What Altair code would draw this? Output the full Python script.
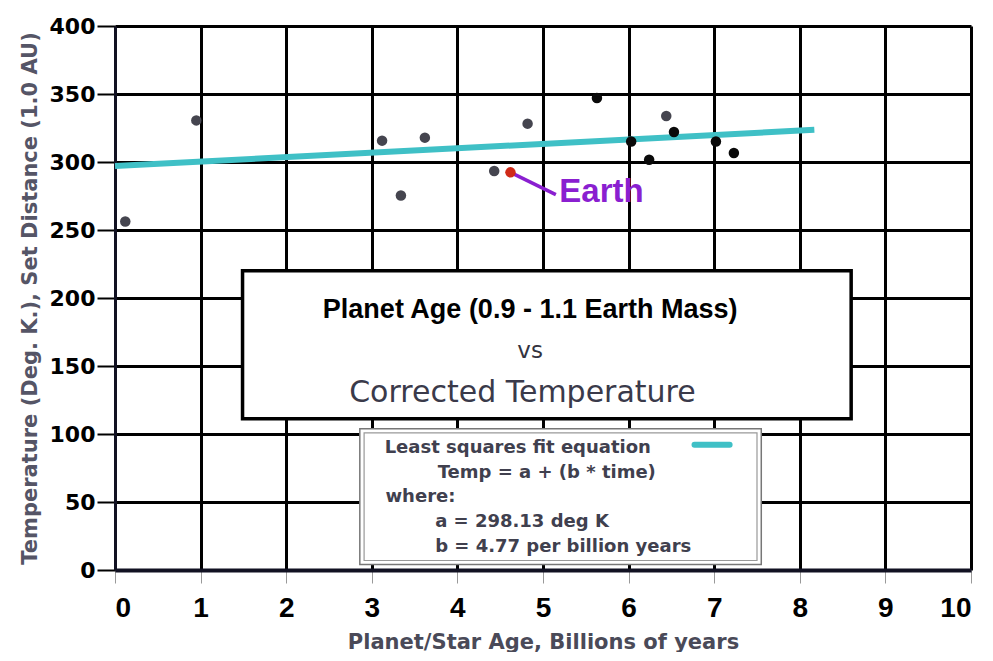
import altair as alt
import pandas as pd

# ---- data ----
age = [0.12, 0.95, 3.12, 3.34, 3.62, 4.43, 4.82, 5.63, 6.03, 6.24, 6.44, 6.53, 7.02, 7.23]
temp = [256.3, 330.6, 315.7, 275.4, 317.9, 293.4, 328.2, 347.1, 315.1, 301.7, 333.8, 322.0, 315.1, 306.6]
shade = ["gray", "gray", "gray", "gray", "gray", "gray", "gray",
         "black", "black", "black", "gray", "black", "black", "black"]

earth_age = [4.62]
earth_temp = [292.4]

fit_age = [0.0, 8.17]
fit_temp = [297.0, 323.7]

x_ticks = list(range(0, 11))
y_ticks = list(range(0, 401, 50))

title_lines = ["Planet Age (0.9 - 1.1 Earth Mass)", "vs", "Corrected Temperature"]
legend_lines = ["Least squares fit equation", "Temp = a + (b * time)", "where:",
                "a = 298.13 deg K", "b = 4.77 per billion years"]

# ---- annotation anchors (data units) ----
title_box = dict(age=[1.49], age2=[8.60], temp=[220.0], temp2=[111.2])
legend_outer = dict(age=[2.86], age2=[7.55], temp=[103.9], temp2=[4.0])
legend_inner = dict(age=[2.91], age2=[7.50], temp=[100.9], temp2=[7.0])
title_x = [4.85, 4.85, 4.76]
title_y = [191.5, 161.3, 130.4]
legend_x = [3.15, 3.77, 3.16, 3.74, 3.74]
legend_y = [90.0, 71.0, 54.0, 35.6, 17.2]
sample_x = [6.77, 7.18]
sample_y = [92.1, 92.1]
earth_label_x = [5.19]
earth_label_y = [278.2]
connector_x2 = [5.15]
connector_y2 = [276.0]

X = alt.X("age:Q",
          scale=alt.Scale(domain=[0, 10], nice=False, zero=False),
          axis=alt.Axis(values=x_ticks, format="d",
                        title="Planet/Star Age, Billions of years",
                        grid=True, gridColor="black", gridWidth=3, gridOpacity=1,
                        domainColor="#111122", domainWidth=4,
                        tickColor="#999999", tickSize=13, tickWidth=1,
                        labelFont="Liberation Sans Narrow, Liberation Sans",
                        labelFontSize=28, labelFontWeight="bold", labelColor="black",
                        labelPadding=11,
                        titleFont="DejaVu Sans", titleFontSize=21, titleFontWeight="bold",
                        titleColor="#4a4a58", titlePadding=9))
Y = alt.Y("temp:Q",
          scale=alt.Scale(domain=[0, 400], nice=False, zero=False),
          axis=alt.Axis(values=y_ticks, format="d",
                        title="Temperature (Deg. K.), Set Distance (1.0 AU)",
                        grid=True, gridColor="black", gridWidth=3, gridOpacity=1,
                        domainColor="#111122", domainWidth=3,
                        tickColor="black", tickSize=18, tickWidth=2,
                        labelFont="DejaVu Sans", labelFontSize=22, labelFontWeight="bold",
                        labelColor="black", labelPadding=2,
                        titleFont="DejaVu Sans", titleFontSize=21, titleFontWeight="bold",
                        titleColor="#555566", titlePadding=9))
X2 = alt.X2("age2:Q")
Y2 = alt.Y2("temp2:Q")

pts = pd.DataFrame({"age": age, "temp": temp, "shade": shade})
fit = pd.DataFrame({"age": fit_age, "temp": fit_temp})
earth = pd.DataFrame({"age": earth_age, "temp": earth_temp,
                      "age2": connector_x2, "temp2": connector_y2})

fit_layer = alt.Chart(fit).mark_line(color="#3fc0c6", strokeWidth=6).encode(x=X, y=Y)

point_layer = alt.Chart(pts).mark_circle(size=110, opacity=1).encode(
    x=X, y=Y,
    color=alt.Color("shade:N", scale=alt.Scale(domain=["gray", "black"],
                                               range=["#45454f", "#0a0a0a"]), legend=None))

connector = alt.Chart(earth).mark_rule(color="#8a1fd0", strokeWidth=3.5).encode(
    x=X, y=Y, x2=X2, y2=Y2)
earth_pt = alt.Chart(earth).mark_circle(size=110, opacity=1, color="#d02a18").encode(x=X, y=Y)
earth_txt = alt.Chart(pd.DataFrame({"age": earth_label_x, "temp": earth_label_y, "t": ["Earth"]})).mark_text(
    align="left", baseline="middle", font="Liberation Sans", fontSize=33, fontWeight="bold",
    color="#8a1fd0").encode(x=X, y=Y, text="t:N")

tbox = alt.Chart(pd.DataFrame(title_box)).mark_rect(
    fill="white", stroke="black", strokeWidth=3.5).encode(x=X, x2=X2, y=Y, y2=Y2)
lbox_o = alt.Chart(pd.DataFrame(legend_outer)).mark_rect(
    fill="white", stroke="#777777", strokeWidth=1.5).encode(x=X, x2=X2, y=Y, y2=Y2)
lbox_i = alt.Chart(pd.DataFrame(legend_inner)).mark_rect(
    fill="white", stroke="#999999", strokeWidth=1.2).encode(x=X, x2=X2, y=Y, y2=Y2)

tdf = pd.DataFrame({"age": title_x, "temp": title_y, "t": title_lines})
t1 = alt.Chart(tdf.iloc[[0]]).mark_text(
    align="center", baseline="middle", font="Liberation Sans Narrow, Liberation Sans",
    fontSize=27, fontWeight="bold", color="black").encode(x=X, y=Y, text="t:N")
t2 = alt.Chart(tdf.iloc[[1]]).mark_text(
    align="center", baseline="middle", font="DejaVu Sans",
    fontSize=23, color="#333340").encode(x=X, y=Y, text="t:N")
t3 = alt.Chart(tdf.iloc[[2]]).mark_text(
    align="center", baseline="middle", font="DejaVu Sans",
    fontSize=30, color="#3a3a4a").encode(x=X, y=Y, text="t:N")

ldf = pd.DataFrame({"age": legend_x, "temp": legend_y, "t": legend_lines})
ltxt = alt.Chart(ldf).mark_text(
    align="left", baseline="middle", font="DejaVu Sans", fontSize=18, fontWeight="bold",
    color="#40404e").encode(x=X, y=Y, text="t:N")
sample = alt.Chart(pd.DataFrame({"age": sample_x, "temp": sample_y})).mark_line(
    color="#3fc0c6", strokeWidth=6, strokeCap="round").encode(x=X, y=Y)

chart = alt.layer(
    tbox, lbox_o, lbox_i, fit_layer, point_layer, connector, earth_pt, earth_txt,
    t1, t2, t3, ltxt, sample
).properties(
    width=856, height=544,
    autosize=alt.AutoSizeParams(type="none"),
    padding={"left": 107, "top": 18, "right": 5, "bottom": 82},
    background="white",
).configure_view(strokeWidth=0)

chart.save("out.html", embed_options={"renderer": "svg", "actions": False})
